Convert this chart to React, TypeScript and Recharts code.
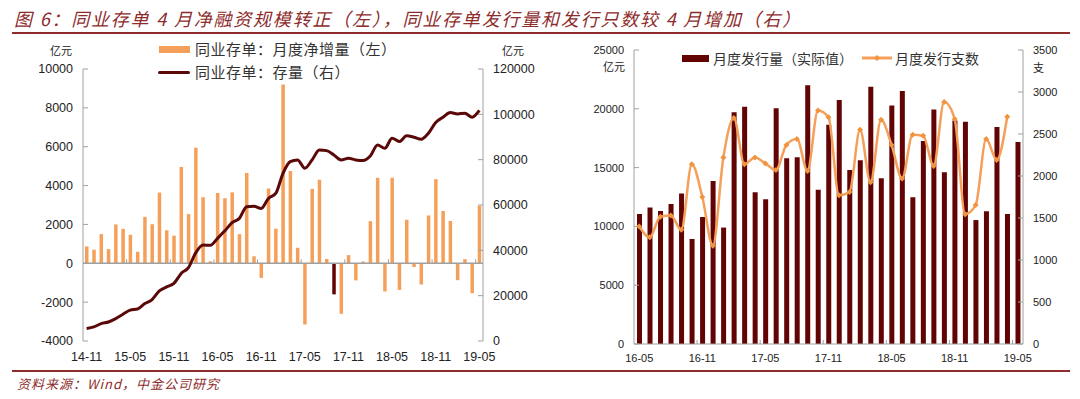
import React from 'react'
import { ComposedChart, Bar, Line, XAxis, YAxis, ReferenceLine, Cell } from 'recharts'

// left chart: monthly net increase (亿元, left axis) and outstanding stock (亿元, right axis)
const leftMonths = [
  '14-11', '14-12',
  '15-01', '15-02', '15-03', '15-04', '15-05', '15-06', '15-07', '15-08', '15-09', '15-10', '15-11', '15-12',
  '16-01', '16-02', '16-03', '16-04', '16-05', '16-06', '16-07', '16-08', '16-09', '16-10', '16-11', '16-12',
  '17-01', '17-02', '17-03', '17-04', '17-05', '17-06', '17-07', '17-08', '17-09', '17-10', '17-11', '17-12',
  '18-01', '18-02', '18-03', '18-04', '18-05', '18-06', '18-07', '18-08', '18-09', '18-10', '18-11', '18-12',
  '19-01', '19-02', '19-03', '19-04', '19-05'
]
const netIncrease = [
  870, 700,
  1500, 730, 2000, 1770, 1470, 590, 2390, 2010, 3640, 1700, 1420, 4960,
  2530, 5950, 3400, 100, 3620, 3350, 3650, 1500, 4650, 360, -750, 3850,
  1780, 9200, 4750, 800, -3150, 3830, 4300, 220, -1600, -2600, 420, -880,
  90, 2170, 4400, -1450, 4400, -1370, 2240, -190, -1090, 2460, 4330, 2690,
  2180, -870, 210, -1540, 2960
]
const stock = [
  5500, 6200,
  7700, 8400, 9900, 11800, 13600, 14100, 16500, 18300, 22100, 23900, 25400, 29800,
  32400, 38900, 42300, 42200, 45300, 48600, 52200, 54100, 59200, 59500, 58500, 62900,
  65100, 74000, 79100, 79900, 76200, 79900, 84300, 84000, 82100, 79900, 80600, 79900,
  79600, 81600, 86500, 85000, 89500, 88000, 90500, 89900, 89000, 91700, 96400, 98700,
  100800, 100200, 100500, 98700, 101700
]
const highlightMonth = '17-09'
const leftTicksL = [-4000, -2000, 0, 2000, 4000, 6000, 8000, 10000]
const leftTicksR = [0, 20000, 40000, 60000, 80000, 100000, 120000]

// right chart: monthly issuance amount (亿元) and number of issues (支)
const rightMonths = [
  '16-05', '16-06', '16-07', '16-08', '16-09', '16-10', '16-11', '16-12',
  '17-01', '17-02', '17-03', '17-04', '17-05', '17-06', '17-07', '17-08', '17-09', '17-10', '17-11', '17-12',
  '18-01', '18-02', '18-03', '18-04', '18-05', '18-06', '18-07', '18-08', '18-09', '18-10', '18-11', '18-12',
  '19-01', '19-02', '19-03', '19-04', '19-05'
]
const issuance = [
  11050, 11600, 11300, 11900, 12800, 8930, 10800, 13860,
  9900, 19700, 20180, 12900, 12300, 20040, 15790, 15870, 22000, 13120, 18650, 20750,
  14800, 15620, 21880, 14090, 20290, 21510, 12470, 17260, 19950, 14600, 19000, 18900,
  10540, 11280, 18450, 11050, 17180
]
const issueCount = [
  1400, 1270, 1515, 1530, 1360, 2140, 1750, 1170,
  2220, 2690, 2140, 2220, 2150, 2070, 2370, 2440, 2060, 2780, 2700, 1770,
  1810, 2550, 1925, 2670, 2370, 1970, 2490, 2480, 2120, 2880, 2680, 1545,
  1655, 2440, 2190, 2705, null
]
const rightTicksL = [0, 5000, 10000, 15000, 20000, 25000]
const rightTicksR = [0, 500, 1000, 1500, 2000, 2500, 3000, 3500]

const leftData = leftMonths.map((m, i) => ({ m, net: netIncrease[i], stock: stock[i] }))
const rightData = rightMonths.map((m, i) => ({ m, amt: issuance[i], cnt: issueCount[i] }))

const ORANGE = '#F5A05A'
const MAROON = '#620404'
const LINE_DARK = '#5A0808'
const AXIS = '#A0A0A0'
const TXT = '#222'
const RED = '#8E2C2C'
const NUM_FONT = '"Liberation Sans", Arial, sans-serif'
const CJK_FONT = '"Noto Sans CJK SC", "Noto Sans", sans-serif'

// plot geometry for the two charts
const L_PLOT_H = 272
const L_PLOT_W = 400
const R_PLOT_W = 389

const Diamond = (props: any) => {
  const { cx, cy, value, index } = props
  if (value == null || cx == null || cy == null) return <g key={index} />
  const r = 3
  return (
    <polygon
      key={index}
      points={`${cx},${cy - r} ${cx + r},${cy} ${cx},${cy + r} ${cx - r},${cy}`}
      fill="#F0943F"
    />
  )
}

// x tick for the left chart: label at bottom, small mark on the zero line at the category boundary
const LeftTick = (props: any) => {
  const { x, y, payload } = props
  const band = L_PLOT_W / leftMonths.length
  const plotBottom = y - 11
  const zeroY = plotBottom - (4000 / 14000) * L_PLOT_H
  const bx = x - band / 2
  return (
    <g>
      {payload.index > 0 && <line x1={bx} x2={bx} y1={zeroY} y2={zeroY - 4} stroke={AXIS} />}
      <text x={x} y={y} dy="0.71em" textAnchor="middle" fontSize={12.5} fill={TXT} fontFamily={NUM_FONT}>
        {payload.value}
      </text>
    </g>
  )
}

const RightTick = (props: any) => {
  const { x, y, payload } = props
  const band = R_PLOT_W / rightMonths.length
  const axisY = y - 10
  const bx = x - band / 2
  return (
    <g>
      {payload.index > 0 && <line x1={bx} x2={bx} y1={axisY} y2={axisY - 4} stroke={AXIS} />}
      <text x={x} y={y} dy="0.71em" textAnchor="middle" fontSize={11} fill={TXT} fontFamily={NUM_FONT}>
        {payload.value}
      </text>
    </g>
  )
}

const abs = (left: number, top: number, extra: any = {}) => ({
  position: 'absolute' as const,
  left,
  top,
  ...extra
})

export default function App() {
  const tickStyleL = { fontSize: 12.5, fill: TXT, fontFamily: NUM_FONT }
  const tickStyleR = { fontSize: 11, fill: TXT, fontFamily: NUM_FONT }

  return (
    <div style={abs(0, 0, { width: 1080, height: 399, background: '#fff', overflow: 'hidden' })}>
      {/* title */}
      <div
        style={abs(14, 5, {
          fontFamily: CJK_FONT,
          fontStyle: 'italic',
          fontSize: 18,
          letterSpacing: 1.8,
          color: RED,
          whiteSpace: 'nowrap'
        })}
      >
        图 6：同业存单 4 月净融资规模转正（左），同业存单发行量和发行只数较 4 月增加（右）
      </div>
      <div style={abs(12, 32, { width: 1058, height: 2, background: RED })} />

      {/* left chart */}
      <div style={abs(0, 0)}>
        <ComposedChart width={540} height={399} data={leftData} margin={{ top: 69, right: 0, bottom: 28, left: 0 }}>
          <XAxis
            dataKey="m"
            interval={5}
            axisLine={false}
            tickLine={false}
            tickSize={6}
            tickMargin={5}
            height={30}
            tick={<LeftTick />}
          />
          <YAxis
            yAxisId="left"
            width={83}
            domain={[-4000, 10000]}
            ticks={leftTicksL}
            interval={0}
            stroke={AXIS}
            tickSize={-5}
            tickMargin={15}
            tick={tickStyleL}
          />
          <YAxis
            yAxisId="right"
            orientation="right"
            width={57}
            domain={[0, 120000]}
            ticks={leftTicksR}
            interval={0}
            stroke={AXIS}
            tickSize={-5}
            tickMargin={15}
            tick={tickStyleL}
          />
          <ReferenceLine yAxisId="left" y={0} stroke={AXIS} strokeWidth={1.5} />
          <Bar yAxisId="left" dataKey="net" barSize={3.5} fill={ORANGE} isAnimationActive={false}>
            {leftData.map((d, i) => (
              <Cell key={`c-${i}`} fill={d.m === highlightMonth ? MAROON : ORANGE} />
            ))}
          </Bar>
          <Line
            yAxisId="right"
            dataKey="stock"
            type="monotone"
            stroke={LINE_DARK}
            strokeWidth={3}
            dot={false}
            isAnimationActive={false}
          />
        </ComposedChart>
      </div>

      {/* left chart units + legend */}
      <div style={abs(50, 42, { fontFamily: CJK_FONT, fontSize: 11, color: TXT })}>亿元</div>
      <div style={abs(502, 42, { fontFamily: CJK_FONT, fontSize: 11, color: TXT })}>亿元</div>
      <div style={abs(159, 46, { width: 31, height: 7, background: ORANGE })} />
      <div style={abs(195, 38, { fontFamily: CJK_FONT, fontSize: 15, letterSpacing: 0.5, color: '#333', whiteSpace: 'nowrap' })}>
        同业存单：月度净增量（左）
      </div>
      <div style={abs(158, 70.5, { width: 32, height: 3, background: LINE_DARK, borderRadius: 2 })} />
      <div style={abs(195, 61, { fontFamily: CJK_FONT, fontSize: 15, letterSpacing: 0.5, color: '#333', whiteSpace: 'nowrap' })}>
        同业存单：存量（右）
      </div>

      {/* right chart */}
      <div style={abs(540, 0)}>
        <ComposedChart width={540} height={399} data={rightData} margin={{ top: 50, right: 0, bottom: 25, left: 0 }}>
          <XAxis
            dataKey="m"
            interval={5}
            stroke={AXIS}
            tickLine={false}
            tickSize={6}
            tickMargin={4}
            height={30}
            tick={<RightTick />}
          />
          <YAxis
            yAxisId="left"
            width={94}
            domain={[0, 25000]}
            ticks={rightTicksL}
            interval={0}
            stroke={AXIS}
            tickSize={-5}
            tickMargin={15}
            tick={tickStyleR}
          />
          <YAxis
            yAxisId="right"
            orientation="right"
            width={57}
            domain={[0, 3500]}
            ticks={rightTicksR}
            interval={0}
            stroke={AXIS}
            tickSize={-5}
            tickMargin={15}
            tick={tickStyleR}
          />
          <Bar yAxisId="left" dataKey="amt" barSize={5} fill={MAROON} isAnimationActive={false} />
          <Line
            yAxisId="right"
            dataKey="cnt"
            type="monotone"
            stroke={ORANGE}
            strokeWidth={2.5}
            dot={<Diamond />}
            activeDot={false}
            isAnimationActive={false}
          />
        </ComposedChart>
      </div>

      {/* right chart units + legend */}
      <div style={abs(603, 58, { fontFamily: CJK_FONT, fontSize: 11, color: TXT })}>亿元</div>
      <div style={abs(1033, 59, { fontFamily: CJK_FONT, fontSize: 11, color: TXT })}>支</div>
      <div style={abs(682, 55, { width: 27, height: 7, background: MAROON })} />
      <div style={abs(713, 48, { fontFamily: CJK_FONT, fontSize: 14, color: '#333', whiteSpace: 'nowrap' })}>
        月度发行量（实际值）
      </div>
      <svg style={abs(860, 52)} width={34} height={12}>
        <line x1={2} y1={6} x2={32} y2={6} stroke={ORANGE} strokeWidth={3} />
        <polygon points="17,3 20,6 17,9 14,6" fill="#F0943F" />
      </svg>
      <div style={abs(895, 48, { fontFamily: CJK_FONT, fontSize: 14, color: '#333', whiteSpace: 'nowrap' })}>
        月度发行支数
      </div>

      {/* footer */}
      <div style={abs(12, 370, { width: 1058, height: 1.5, background: RED })} />
      <div
        style={abs(17, 374, {
          fontFamily: CJK_FONT,
          fontStyle: 'italic',
          fontSize: 13,
          letterSpacing: 1,
          color: RED,
          whiteSpace: 'nowrap'
        })}
      >
        资料来源：Wind，中金公司研究
      </div>
    </div>
  )
}
